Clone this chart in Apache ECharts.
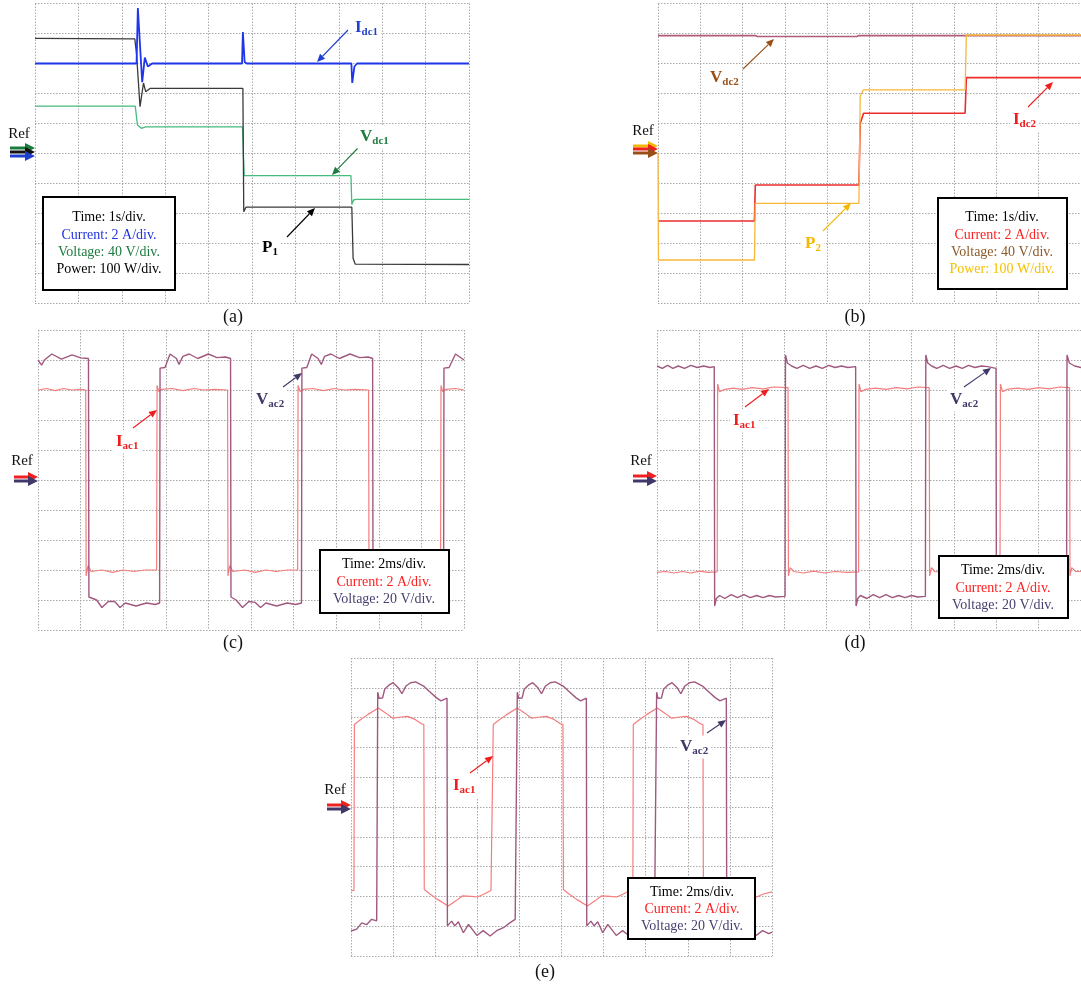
<!DOCTYPE html>
<html>
<head>
<meta charset="utf-8">
<script src="https://cdn.jsdelivr.net/npm/echarts@6/dist/echarts.min.js"></script>
<style>html,body{margin:0;padding:0;background:#fff;}#c{width:1081px;height:988px;}</style>
</head>
<body>
<div id="c"></div>
<script>
// ---------- DATA (time, value in screen divisions; Ref = 0) ----------
// (a) time in s (1 s/div)
const aIdc1 = [[0,3.0],[2.34,3.0],[2.37,4.85],[2.42,3.6],[2.47,2.38],[2.53,3.2],[2.60,2.9],[2.70,3.0],[4.77,3.0],[4.79,4.05],[4.83,3.05],[4.88,3.0],[7.29,3.0],[7.31,2.35],[7.36,2.9],[7.42,3.0],[10,3.0]];
const aP1 = [[0,3.84],[2.30,3.82],[2.34,3.3],[2.42,1.56],[2.50,2.35],[2.55,2.06],[2.65,2.17],[4.79,2.17],[4.81,-1.94],[4.86,-1.79],[7.30,-1.79],[7.33,-3.5],[7.38,-3.69],[10,-3.70]];
const aVdc1 = [[0,1.58],[2.31,1.58],[2.36,0.95],[2.45,0.84],[2.55,0.89],[4.78,0.89],[4.82,-0.74],[7.28,-0.74],[7.30,-1.70],[7.34,-1.55],[7.40,-1.53],[10,-1.53]];
// (b) time in s (1 s/div)
const bVdc2 = [[0,3.93],[2.3,3.93],[2.35,3.9],[4.7,3.9],[4.75,3.93],[10,3.93]];
const bP2 = [[0,0],[0.01,-3.55],[2.28,-3.55],[2.30,-1.66],[4.75,-1.66],[4.78,1.9],[4.85,2.12],[7.26,2.12],[7.29,3.95],[10,3.95]];
const bIdc2 = [[0,-2.25],[2.28,-2.25],[2.30,-1.05],[4.75,-1.05],[4.78,1.0],[4.86,1.34],[7.26,1.34],[7.29,2.53],[10,2.53]];
// (c) time in ms (2 ms/div)
const cVac2 = [[0,4.0],[0.17,3.83],[0.3,4.0],[0.65,4.2],[1.1,4.03],[1.6,4.17],[2.0,4.07],[2.37,4.05],[2.39,-3.9],[2.75,-4.0],[3.0,-4.25],[3.3,-4.05],[3.6,-4.05],[3.85,-4.25],[4.1,-4.1],[4.6,-4.2],[5.1,-4.1],[5.5,-4.15],[5.71,-4.1],
  [5.73,3.73],[5.96,3.75],[6.2,4.2],[6.5,4.05],[6.62,3.85],[6.8,4.12],[7.1,4.2],[7.5,4.05],[8.0,4.2],[8.4,4.08],[8.8,4.1],[9.04,4.05],
  [9.06,-3.9],[9.3,-4.0],[9.6,-4.25],[9.9,-4.05],[10.2,-4.08],[10.45,-4.25],[10.7,-4.1],[11.2,-4.2],[11.7,-4.1],[12.1,-4.15],[12.37,-4.1],
  [12.39,3.73],[12.62,3.75],[12.85,4.2],[13.15,4.05],[13.3,3.85],[13.45,4.12],[13.75,4.2],[14.15,4.05],[14.65,4.2],[15.1,4.08],[15.5,4.1],[15.71,4.05],
  [15.73,-3.9],[16.0,-4.0],[16.3,-4.25],[16.6,-4.05],[16.9,-4.05],[17.15,-4.25],[17.4,-4.1],[17.9,-4.2],[18.4,-4.1],[18.8,-4.15],[19.04,-4.1],
  [19.06,3.73],[19.3,3.75],[19.6,4.2],[20,4.0]];
const cIac1 = [[0,3.0],[0.4,3.05],[0.8,2.98],[1.2,3.05],[1.6,3.0],[2.0,3.02],[2.24,3.0],[2.26,-3.2],[2.35,-2.85],[2.5,-3.05],[3.0,-3.0],[3.5,-3.08],[4.0,-3.0],[4.5,-3.05],[5.0,-3.0],[5.57,-3.0],
  [5.59,3.15],[5.67,2.95],[5.8,3.02],[6.3,3.05],[6.8,2.98],[7.3,3.05],[7.8,3.0],[8.3,3.02],[8.9,3.0],
  [8.92,-3.2],[9.0,-2.85],[9.15,-3.05],[9.7,-3.0],[10.2,-3.08],[10.7,-3.0],[11.2,-3.05],[11.7,-3.0],[12.19,-3.0],
  [12.21,3.15],[12.3,2.95],[12.45,3.02],[12.9,3.05],[13.4,2.98],[13.9,3.05],[14.4,3.0],[14.9,3.02],[15.52,3.0],
  [15.54,-3.2],[15.62,-2.85],[15.8,-3.05],[16.3,-3.0],[16.8,-3.08],[17.3,-3.0],[17.8,-3.05],[18.3,-3.0],[18.9,-3.0],
  [18.92,3.15],[19.0,2.95],[19.15,3.02],[19.6,3.05],[20,3.0]];
// (d) time in ms (2 ms/div)
const dVac2 = [[0,3.8],[0.25,3.72],[0.5,3.82],[0.75,3.72],[1.0,3.8],[1.3,3.72],[1.6,3.82],[1.9,3.75],[2.2,3.8],[2.5,3.75],[2.7,3.78],
  [2.72,-4.2],[2.8,-3.95],[2.95,-3.85],[3.2,-3.95],[3.5,-3.82],[3.8,-3.92],[4.1,-3.82],[4.4,-3.92],[4.7,-3.85],[5.0,-3.92],[5.3,-3.85],[5.6,-3.9],[6.04,-3.88],
  [6.06,4.17],[6.15,3.9],[6.35,3.8],[6.6,3.72],[6.9,3.82],[7.2,3.72],[7.5,3.8],[7.8,3.72],[8.1,3.82],[8.4,3.75],[8.7,3.8],[9.0,3.75],[9.37,3.78],
  [9.39,-4.2],[9.47,-3.95],[9.6,-3.85],[9.9,-3.95],[10.2,-3.82],[10.5,-3.92],[10.8,-3.82],[11.1,-3.92],[11.4,-3.85],[11.7,-3.92],[12.0,-3.85],[12.3,-3.9],[12.66,-3.88],
  [12.68,4.17],[12.77,3.9],[12.95,3.8],[13.2,3.72],[13.5,3.82],[13.8,3.72],[14.1,3.8],[14.4,3.72],[14.7,3.82],[15.0,3.75],[15.3,3.8],[15.6,3.78],[15.99,3.72],
  [16.01,-4.2],[16.1,-3.95],[16.4,-3.85],[16.7,-3.95],[17.0,-3.82],[17.4,-3.92],[17.8,-3.85],[18.3,-3.92],[18.8,-3.85],[19.32,-3.88],
  [19.34,4.17],[19.45,3.9],[19.7,3.8],[20,3.75]];
const dIac1 = [[0,-3.08],[0.4,-3.05],[0.8,-3.1],[1.2,-3.05],[1.6,-3.1],[2.0,-3.04],[2.4,-3.08],[2.84,-3.06],
  [2.86,3.2],[2.95,2.94],[3.2,3.02],[3.6,3.06],[4.0,3.02],[4.5,3.08],[5.0,3.04],[5.5,3.1],[6.18,3.08],
  [6.20,-3.2],[6.28,-2.92],[6.45,-3.05],[6.9,-3.1],[7.4,-3.04],[7.9,-3.1],[8.4,-3.05],[9.0,-3.08],[9.51,-3.06],
  [9.53,3.2],[9.62,2.94],[9.85,3.02],[10.3,3.06],[10.8,3.02],[11.3,3.08],[11.8,3.04],[12.3,3.1],[12.84,3.08],
  [12.86,-3.2],[12.95,-2.92],[13.1,-3.05],[13.6,-3.1],[14.1,-3.04],[14.6,-3.1],[15.1,-3.05],[15.6,-3.08],[16.18,-3.06],
  [16.20,3.2],[16.3,2.94],[16.5,3.02],[17.0,3.06],[17.5,3.02],[18.0,3.08],[18.5,3.04],[19.0,3.1],[19.46,3.08],
  [19.48,-3.2],[19.56,-2.92],[19.75,-3.05],[20,-3.05]];
// (e) time in ms (2 ms/div)
const eVac2 = [[0,-4.16],[0.27,-4.1],[0.51,-3.89],[0.74,-3.95],[0.98,-3.77],[1.22,-3.82],[1.25,-3.8],
  [1.27,3.85],[1.33,3.65],[1.5,3.66],[1.6,3.95],[1.82,4.1],[2.0,4.17],[2.25,4.0],[2.42,3.8],[2.6,4.05],[2.83,4.17],[3.07,4.2],[3.45,4.06],[3.7,3.89],[4.05,3.67],[4.28,3.56],[4.56,3.65],
  [4.58,-3.99],[4.78,-3.83],[4.93,-3.99],[5.1,-3.85],[5.34,-4.22],[5.58,-3.94],[5.98,-4.31],[6.28,-4.15],[6.61,-4.33],[6.92,-4.15],[7.24,-4.05],[7.56,-3.88],[7.8,-3.77],[7.88,-3.8],
  [7.90,3.85],[7.96,3.65],[8.13,3.66],[8.23,3.95],[8.45,4.1],[8.63,4.17],[8.88,4.0],[9.05,3.8],[9.23,4.05],[9.46,4.17],[9.7,4.2],[10.08,4.06],[10.33,3.89],[10.68,3.67],[10.91,3.56],[11.18,3.65],
  [11.20,-3.99],[11.40,-3.83],[11.55,-3.99],[11.72,-3.85],[11.96,-4.22],[12.2,-3.94],[12.6,-4.31],[12.9,-4.15],[13.23,-4.33],[13.54,-4.15],[13.86,-4.05],[14.18,-3.88],[14.42,-3.77],[14.5,-3.8],
  [14.52,3.85],[14.58,3.65],[14.75,3.66],[14.85,3.95],[15.07,4.1],[15.25,4.17],[15.5,4.0],[15.67,3.8],[15.85,4.05],[16.08,4.17],[16.32,4.2],[16.7,4.06],[16.95,3.89],[17.3,3.67],[17.53,3.56],[17.83,3.65],
  [17.85,-3.99],[18.05,-3.83],[18.2,-3.99],[18.37,-3.85],[18.61,-4.22],[18.85,-3.94],[19.25,-4.31],[19.55,-4.15],[19.85,-4.25],[20,-4.2]];
const eIac1 = [[0,-2.82],[0.14,-2.8],[0.16,2.77],[0.40,2.9],[0.79,3.1],[1.30,3.32],[1.66,3.15],[1.98,2.98],[2.38,3.02],[2.69,3.04],[3.01,2.95],[3.33,2.8],[3.46,2.77],
  [3.48,-2.77],[3.72,-2.9],[4.11,-3.1],[4.62,-3.32],[4.98,-3.15],[5.30,-2.98],[5.70,-3.0],[6.01,-3.02],[6.33,-2.92],[6.65,-2.8],[6.74,-2.77],
  [6.76,2.77],[7.0,2.9],[7.39,3.1],[7.90,3.32],[8.26,3.15],[8.58,2.98],[8.98,3.02],[9.29,3.04],[9.61,2.95],[9.93,2.8],[10.07,2.77],
  [10.09,-2.77],[10.33,-2.9],[10.72,-3.1],[11.23,-3.32],[11.59,-3.15],[11.91,-2.98],[12.31,-3.0],[12.62,-3.02],[12.94,-2.92],[13.26,-2.8],[13.39,-2.77],
  [13.41,2.77],[13.65,2.9],[14.04,3.1],[14.55,3.32],[14.91,3.15],[15.23,2.98],[15.63,3.02],[15.94,3.04],[16.26,2.95],[16.58,2.8],[16.72,2.77],
  [16.74,-2.77],[16.98,-2.9],[17.37,-3.1],[17.88,-3.32],[18.24,-3.15],[18.56,-2.98],[18.96,-3.0],[19.27,-3.02],[19.59,-2.92],[20,-2.85]];

const captions = ['(a)','(b)','(c)','(d)','(e)'];
const boxA = ['Time: 1s/div.','Current: 2 A/div.','Voltage: 40 V/div.','Power: 100 W/div.'];
const boxB = ['Time: 1s/div.','Current: 2 A/div.','Voltage: 40 V/div.','Power: 100 W/div.'];
const boxAC = ['Time: 2ms/div.','Current: 2 A/div.','Voltage: 20 V/div.'];

// ---------- STYLE ----------
const FONT = '"Liberation Serif","Times New Roman",serif';
const C = {
  idc1:'#1f35ea', p1:'#3a3a3a', vdc1:'#45bb7e',
  vdc2:'#b05c7c', p2:'#f6b73a', idc2:'#ee2c2c',
  iac:'#f47d7d', vac:'#a0587f',
  lblBlue:'#1f3fd0', lblGreen:'#1e7b3e', lblBrown:'#9a4f16', lblGold:'#f5b800', lblRed:'#ee1c1c', lblSlate:'#3f3868'
};

const grids = [
  {left:35, top:3.5, width:434, height:300, xmax:10, xint:1},
  {left:658, top:3.5, width:425, height:300, xmax:10, xint:1},
  {left:38, top:330, width:426, height:300, xmax:20, xint:2},
  {left:657, top:330, width:426, height:300, xmax:20, xint:2},
  {left:351, top:658, width:421, height:298, xmax:20, xint:2}
];
const splitStyle = {show:true, lineStyle:{color:'#a8a8a8', type:[1.5,1.5], width:1}};

const option = {
  animation:false,
  backgroundColor:'#fff',
  grid: grids.map(g=>({left:g.left, top:g.top, width:g.width, height:g.height, containLabel:false})),
  xAxis: grids.map((g,i)=>({type:'value', gridIndex:i, min:0, max:g.xmax, interval:g.xint,
    axisLine:{show:false}, axisTick:{show:false}, axisLabel:{show:false}, splitLine:splitStyle})),
  yAxis: grids.map((g,i)=>({type:'value', gridIndex:i, min:-5, max:5, interval:1,
    axisLine:{show:false}, axisTick:{show:false}, axisLabel:{show:false}, splitLine:splitStyle})),
  series: []
};
function S(data, gi, color, w, z){
  option.series.push({type:'line', xAxisIndex:gi, yAxisIndex:gi, data:data, showSymbol:false, symbol:'none',
    lineStyle:{color:color, width:w}, itemStyle:{color:color}, z:z||2, silent:true});
}
S(aVdc1,0,C.vdc1,1.3,2); S(aP1,0,C.p1,1.3,3); S(aIdc1,0,C.idc1,1.8,4);
S(bVdc2,1,C.vdc2,1.6,2); S(bIdc2,1,C.idc2,1.6,3); S(bP2,1,C.p2,1.3,4);
S(cIac1,2,C.iac,1.2,2); S(cVac2,2,C.vac,1.4,3);
S(dIac1,3,C.iac,1.2,2); S(dVac2,3,C.vac,1.4,3);
S(eIac1,4,C.iac,1.2,2); S(eVac2,4,C.vac,1.4,3);

// ---------- GRAPHICS (labels, arrows, boxes) ----------
const G = [];
function arrow(x1,y1,x2,y2,color,w,head,hw){
  w = w||1.2; head = head||8; hw = hw||3.5;
  const a = Math.atan2(y2-y1,x2-x1), bx = x2-head*Math.cos(a), by = y2-head*Math.sin(a);
  const px = -Math.sin(a)*hw, py = Math.cos(a)*hw;
  G.push({type:'line', z:50, shape:{x1:x1,y1:y1,x2:bx,y2:by}, style:{stroke:color, lineWidth:w}});
  G.push({type:'polygon', z:50, shape:{points:[[x2,y2],[bx+px,by+py],[bx-px,by-py]]}, style:{fill:color}});
}
function txt(x,y,text,color,size,align,opts){
  G.push(Object.assign({type:'text', z:60, x:x, y:y, style:Object.assign({text:text, fill:color, font:(size||14)+'px '+FONT,
    textAlign:align||'center', textVerticalAlign:'middle'}, opts||{})}));
}
function sub(x,y,main,s,color){
  G.push({type:'text', z:60, x:x, y:y, style:{text:'{m|'+main+'}{s|'+s+'}', textAlign:'left', textVerticalAlign:'middle',
    backgroundColor:'#fff', padding:[2,3,2,3],
    rich:{m:{fontFamily:FONT, fontSize:17, fontWeight:'bold', fill:color, color:color},
          s:{fontFamily:FONT, fontSize:11, fontWeight:'bold', fill:color, color:color, padding:[8,0,0,0]}}}});
}
function box(x,y,w,h,lines,colors,cx,ly){
  G.push({type:'rect', z:55, shape:{x:x,y:y,width:w,height:h}, style:{fill:'#fff', stroke:'#000', lineWidth:2}});
  lines.forEach((l,i)=>txt(cx, ly[i], l, colors[i], 14));
}
function ref(tx,ty,ys,colors,x1,x2){
  txt(tx,ty,'Ref','#111',15);
  ys.forEach((y,i)=>arrow(x1,y,x2,y,colors[i],3,10,5));
}

// (a)
ref(19,134,[148,152,156],['#1c7a3c','#111','#1f3fd0'],10,35);
sub(352,28,'I','dc1',C.lblBlue); arrow(348,30,317,62,C.lblBlue,1.1);
sub(357,137,'V','dc1',C.lblGreen); arrow(358,148,332,175,C.lblGreen,1.1);
sub(259,248,'P','1','#000'); arrow(287,237,315,208,'#000',1.1);
box(43,197,132,93,boxA,['#000','#2233dd','#1e7b40','#000'],109,[217,235,252,269]);
// (b)
ref(643,131,[146,149,153],['#f5b800','#ee2020','#9a4f16'],633,658);
sub(707,78,'V','dc2',C.lblBrown); arrow(743,69,774,39,C.lblBrown,1.1);
sub(1010,120,'I','dc2',C.lblRed); arrow(1028,107,1053,82,C.lblRed,1.1);
sub(802,244,'P','2',C.lblGold); arrow(823,231,851,203,C.lblGold,1.1);
box(938,198,129,91,boxB,['#000','#ff2020','#8b5a2b','#f5c000'],1002,[217,235,252,269]);
// (c)
ref(22,461,[477,481],['#ee2020','#3f3868'],14,38);
sub(253,400,'V','ac2',C.lblSlate); arrow(283,387,302,373,C.lblSlate,1.1);
sub(113,442,'I','ac1',C.lblRed); arrow(133,428,157,410,C.lblRed,1.1);
box(320,550,129,63,boxAC,['#000','#ff2020','#4a3f70'],384,[564,582,599]);
// (d)
ref(641,461,[476,481],['#ee2020','#3f3868'],633,657);
sub(730,421,'I','ac1',C.lblRed); arrow(745,407,769,389,C.lblRed,1.1);
sub(947,400,'V','ac2',C.lblSlate); arrow(964,387,991,368,C.lblSlate,1.1);
box(939,556,129,62,boxAC,['#000','#ff2020','#4a3f70'],1003,[570,588,605]);
// (e)
ref(335,790,[805,809],['#ee2020','#3f3868'],327,351);
sub(450,786,'I','ac1',C.lblRed); arrow(470,773,493,756,C.lblRed,1.1);
sub(677,747,'V','ac2',C.lblSlate); arrow(707,733,726,720,C.lblSlate,1.1);
box(628,878,127,61,boxAC,['#000','#ff2020','#4a3f70'],692,[892,909,926]);

// captions
[[233,317],[855,317],[233,643],[855,643],[545,972]].forEach((p,i)=>txt(p[0],p[1],captions[i],'#111',18));

option.graphic = G;
const chart = echarts.init(document.getElementById('c'), null, {renderer:'canvas'});
chart.setOption(option);
</script>
</body>
</html>
